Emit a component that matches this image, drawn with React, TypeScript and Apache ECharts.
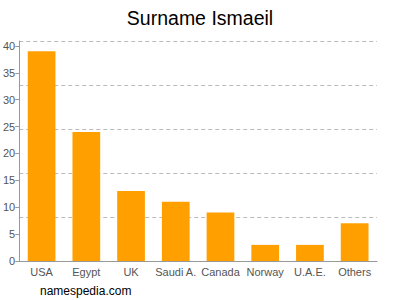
import React, { useEffect, useRef } from "react";
import * as echarts from "echarts";

const categories = ["USA", "Egypt", "UK", "Saudi A.", "Canada", "Norway", "U.A.E.", "Others"];
const values = [39, 24, 13, 11, 9, 3, 3, 7];
const yMax = 40.93;

export default function App() {
  const ref = useRef<HTMLDivElement>(null);
  useEffect(() => {
    const chart = echarts.init(ref.current!, null, { renderer: "svg" });
    chart.setOption({
      animation: false,
      title: {
        text: "Surname Ismaeil",
        left: "center",
        top: 3,
        textStyle: { fontFamily: "Liberation Sans", fontSize: 19.5, fontWeight: "normal", color: "#000" },
      },
      graphic: [
        {
          type: "text",
          left: 40,
          top: 285,
          style: { text: "namespedia.com", fontFamily: "Liberation Sans", fontSize: 12, fill: "#000" },
        },
      ],
      grid: { left: 18, right: 23, top: 41, bottom: 39, containLabel: false },
      xAxis: {
        type: "category",
        data: categories,
        axisLine: { lineStyle: { color: "#999" } },
        axisTick: { alignWithLabel: true, length: 4, lineStyle: { color: "#999" } },
        axisLabel: { color: "#555", fontFamily: "Liberation Sans", fontSize: 11, margin: 5, interval: 0 },
      },
      yAxis: [
        {
          type: "value",
          min: 0,
          max: yMax,
          interval: 5,
          axisLine: { show: true, lineStyle: { color: "#999" } },
          axisTick: { show: true, length: 4, lineStyle: { color: "#999" } },
          axisLabel: { color: "#555", fontFamily: "Liberation Sans", fontSize: 11, margin: 4, showMaxLabel: false },
          splitLine: { show: false },
        },
        {
          type: "value",
          min: 0,
          max: yMax,
          interval: yMax / 5,
          position: "left",
          axisLine: { show: false },
          axisTick: { show: false },
          axisLabel: { show: false },
          splitLine: { show: true, lineStyle: { color: "#bbb", type: [4, 3], width: 1 } },
        },
      ],
      series: [
        {
          type: "bar",
          data: values,
          barWidth: "62%",
          itemStyle: { color: "#FFA000" },
        },
      ],
    });
    return () => chart.dispose();
  }, []);
  return <div ref={ref} style={{ width: 400, height: 300, position: "absolute", left: 0, top: 0 }} />;
}
